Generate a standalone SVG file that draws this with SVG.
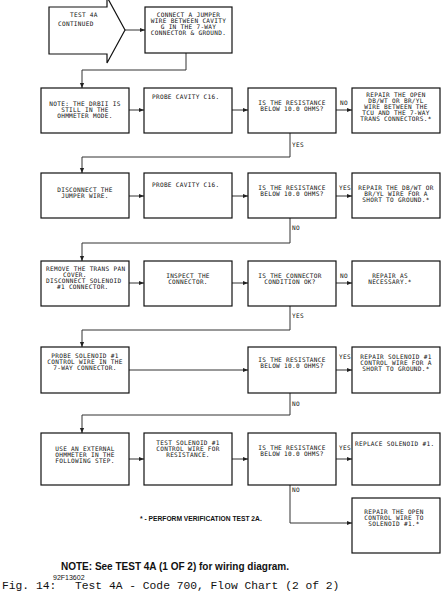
<svg xmlns="http://www.w3.org/2000/svg" width="445" height="591" viewBox="0 0 445 591">
<style>
.b{fill:#fff;stroke:#111;stroke-width:1.2}
.t{font-family:"DejaVu Sans Mono",monospace;font-size:6.1px;fill:#111;letter-spacing:0.3px}
.c{text-anchor:middle}
.l{fill:none;stroke:#333;stroke-width:1}
.a{marker-end:url(#ah)}
.fn{font-family:"Liberation Sans",Arial,sans-serif;font-weight:bold;fill:#111}
.mono{font-family:"Liberation Mono","Courier New",monospace;fill:#111}
</style>
<defs>
<marker id="ah" markerWidth="6" markerHeight="6" refX="5" refY="3" orient="auto" markerUnits="userSpaceOnUse"><path d="M0,0.9 L5,3 L0,5.1 z" fill="#222"/></marker>
</defs>
<rect width="445" height="591" fill="#fff"/>
<g opacity="0.995">
<g id="connectors">
<path class="l a" d="M125,30 H145"/>
<path class="l a" d="M186,53 V70 H82 V88"/>
<path class="l a" d="M129,110 H144"/>
<path class="l a" d="M232,110 H248"/>
<path class="l a" d="M336,110 H352"/>
<path class="l a" d="M290,133 V157 H82 V173"/>
<path class="l a" d="M129,196 H144"/>
<path class="l a" d="M232,196 H248"/>
<path class="l a" d="M336,196 H352"/>
<path class="l a" d="M290,218 V243 H82 V261"/>
<path class="l a" d="M129,283 H144"/>
<path class="l a" d="M232,283 H248"/>
<path class="l a" d="M336,283 H352"/>
<path class="l a" d="M290,306 V330 H82 V347"/>
<path class="l a" d="M129,370 H248"/>
<path class="l a" d="M336,370 H352"/>
<path class="l a" d="M290,393 V415 H82 V433"/>
<path class="l a" d="M129,459 H144"/>
<path class="l a" d="M232,459 H248"/>
<path class="l a" d="M336,459 H352"/>
<path class="l a" d="M290,485 V523 H352"/>
<text class="t" x="340" y="105">NO</text>
<text class="t" x="292" y="147">YES</text>
<text class="t" x="339" y="190">YES</text>
<text class="t" x="292" y="230">NO</text>
<text class="t" x="340" y="278">NO</text>
<text class="t" x="292" y="318">YES</text>
<text class="t" x="339" y="358.5">YES</text>
<text class="t" x="292" y="406">NO</text>
<text class="t" x="339" y="450">YES</text>
<text class="t" x="292" y="492">NO</text>
</g>
<g id="start">
<path class="b" d="M49,7 H107 V-3 L125,30 L107,63 V54 H49 Z"/>
<text class="t" x="70" y="17">TEST 4A</text>
<text class="t" x="58" y="26">CONTINUED</text>
</g>
<g id="n1">
<rect class="b" x="145" y="7" width="87" height="46"/>
<text class="t c" x="188.5" y="16.5">CONNECT A JUMPER</text>
<text class="t c" x="188.5" y="22.5">WIRE BETWEEN CAVITY</text>
<text class="t c" x="188.5" y="28.5">G IN THE 7-WAY</text>
<text class="t c" x="188.5" y="34.5">CONNECTOR &amp; GROUND.</text>
</g>
<g id="n2">
<rect class="b" x="41" y="88" width="88" height="45"/>
<text class="t c" x="85" y="105.5">NOTE: THE DRBII IS</text>
<text class="t c" x="85" y="111.5">STILL IN THE</text>
<text class="t c" x="85" y="117.5">OHMMETER MODE.</text>
</g>
<g id="n3">
<rect class="b" x="144" y="88" width="88" height="45"/>
<text class="t" x="152" y="98.5">PROBE CAVITY C16.</text>
</g>
<g id="n4">
<rect class="b" x="248" y="88" width="88" height="45"/>
<text class="t c" x="292" y="105">IS THE RESISTANCE</text>
<text class="t c" x="292" y="111">BELOW 10.0 OHMS?</text>
</g>
<g id="n5">
<rect class="b" x="352" y="88" width="88" height="45"/>
<text class="t c" x="396" y="97">REPAIR THE OPEN</text>
<text class="t c" x="396" y="103">DB/WT OR BR/YL</text>
<text class="t c" x="396" y="109">WIRE BETWEEN THE</text>
<text class="t c" x="396" y="115">TCU AND THE 7-WAY</text>
<text class="t c" x="396" y="121">TRANS CONNECTORS.*</text>
</g>
<g id="n6">
<rect class="b" x="41" y="173" width="88" height="45"/>
<text class="t c" x="85" y="192">DISCONNECT THE</text>
<text class="t c" x="85" y="198">JUMPER WIRE.</text>
</g>
<g id="n7">
<rect class="b" x="144" y="173" width="88" height="45"/>
<text class="t" x="152" y="186.5">PROBE CAVITY C16.</text>
</g>
<g id="n8">
<rect class="b" x="248" y="173" width="88" height="45"/>
<text class="t c" x="292" y="190">IS THE RESISTANCE</text>
<text class="t c" x="292" y="196">BELOW 10.0 OHMS?</text>
</g>
<g id="n9">
<rect class="b" x="352" y="173" width="88" height="45"/>
<text class="t c" x="396" y="190">REPAIR THE DB/WT OR</text>
<text class="t c" x="396" y="196">BR/YL WIRE FOR A</text>
<text class="t c" x="396" y="202">SHORT TO GROUND.*</text>
</g>
<g id="n10">
<rect class="b" x="41" y="261" width="88" height="45"/>
<text class="t" x="46" y="271">REMOVE THE TRANS PAN</text>
<text class="t" x="63" y="277">COVER.</text>
<text class="t" x="46" y="283">DISCONNECT SOLENOID</text>
<text class="t" x="57" y="289">#1 CONNECTOR.</text>
</g>
<g id="n11">
<rect class="b" x="144" y="261" width="88" height="45"/>
<text class="t c" x="188" y="278">INSPECT THE</text>
<text class="t c" x="188" y="284">CONNECTOR.</text>
</g>
<g id="n12">
<rect class="b" x="248" y="261" width="88" height="45"/>
<text class="t c" x="290" y="278">IS THE CONNECTOR</text>
<text class="t c" x="290" y="284">CONDITION OK?</text>
</g>
<g id="n13">
<rect class="b" x="352" y="261" width="88" height="45"/>
<text class="t c" x="390" y="278">REPAIR AS</text>
<text class="t c" x="390" y="284">NECESSARY.*</text>
</g>
<g id="n14">
<rect class="b" x="41" y="347" width="88" height="46"/>
<text class="t c" x="85" y="357.5">PROBE SOLENOID #1</text>
<text class="t c" x="85" y="363.5">CONTROL WIRE IN THE</text>
<text class="t c" x="85" y="369.5">7-WAY CONNECTOR.</text>
</g>
<g id="n15">
<rect class="b" x="248" y="347" width="88" height="46"/>
<text class="t c" x="292" y="362">IS THE RESISTANCE</text>
<text class="t c" x="292" y="368">BELOW 10.0 OHMS?</text>
</g>
<g id="n16">
<rect class="b" x="352" y="347" width="88" height="46"/>
<text class="t c" x="396" y="358.5">REPAIR SOLENOID #1</text>
<text class="t c" x="396" y="364.5">CONTROL WIRE FOR A</text>
<text class="t c" x="396" y="370.5">SHORT TO GROUND.*</text>
</g>
<g id="n17">
<rect class="b" x="41" y="433" width="88" height="52"/>
<text class="t c" x="85" y="450.5">USE AN EXTERNAL</text>
<text class="t c" x="85" y="456.5">OHMMETER IN THE</text>
<text class="t c" x="85" y="462.5">FOLLOWING STEP.</text>
</g>
<g id="n18">
<rect class="b" x="144" y="433" width="88" height="52"/>
<text class="t c" x="188" y="445">TEST SOLENOID #1</text>
<text class="t c" x="188" y="451">CONTROL WIRE FOR</text>
<text class="t c" x="188" y="457">RESISTANCE.</text>
</g>
<g id="n19">
<rect class="b" x="248" y="433" width="88" height="52"/>
<text class="t c" x="292" y="450">IS THE RESISTANCE</text>
<text class="t c" x="292" y="456">BELOW 10.0 OHMS?</text>
</g>
<g id="n20">
<rect class="b" x="352" y="433" width="88" height="52"/>
<text class="t" x="355" y="445.5">REPLACE SOLENOID #1.</text>
</g>
<g id="n21">
<rect class="b" x="352" y="498" width="88" height="55"/>
<text class="t c" x="394" y="513.5">REPAIR THE OPEN</text>
<text class="t c" x="394" y="519.5">CONTROL WIRE TO</text>
<text class="t c" x="394" y="525.5">SOLENOID #1.*</text>
</g>
<g id="notes">
<text class="fn" x="140" y="520.5" font-size="6.7">* - PERFORM VERIFICATION TEST 2A.</text>
<text class="fn" x="61" y="570" font-size="10">NOTE: See TEST 4A (1 OF 2) for wiring diagram.</text>
<text x="53" y="580" font-family="Liberation Sans, Arial, sans-serif" font-size="7" fill="#111">92F13602</text>
<text class="mono" x="2" y="588.5" font-size="11.3">Fig. 14:</text>
<text class="mono" x="75" y="588.5" font-size="11.3">Test 4A - Code 700, Flow Chart (2 of 2)</text>
</g>
</g>
</svg>
